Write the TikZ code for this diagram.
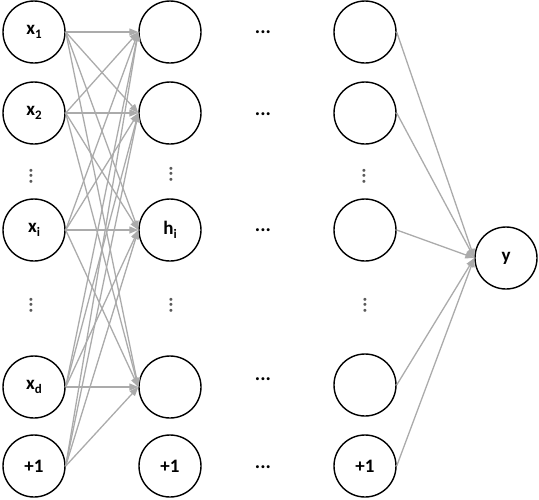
\documentclass[tikz,border=0pt]{standalone}
\usepackage{fontspec}
\setmainfont{Carlito}
\usetikzlibrary{arrows.meta}
\tikzset{
  neuron/.style={circle,draw=black,line width=1.4pt,minimum size=62pt,inner sep=0pt,font=\fontsize{19}{19}\selectfont\bfseries},
  conn/.style={draw=black!33,line width=1.3pt,-{Triangle[length=9pt,width=7pt]}},
  hdots/.style={font=\fontsize{20}{20}\selectfont\bfseries,inner sep=0pt},
  vdotsnode/.style={font=\fontsize{20}{20}\selectfont\bfseries,text=black!65,rotate=90,inner sep=0pt}
}
\newcommand{\sub}[1]{\raisebox{-4pt}{\fontsize{13}{13}\selectfont #1}}
\begin{document}
\begin{tikzpicture}[x=1pt,y=-1pt]
\useasboundingbox (0,0) rectangle (539,499);
% input layer
\node[neuron] (a1) at (34,32) {x\sub{1}};
\node[neuron] (a2) at (34,113) {x\sub{2}};
\node[neuron] (ai) at (34,230) {x\sub{i}};
\node[neuron] (ad) at (34,387) {x\sub{d}};
\node[neuron] (ab) at (34,466) {+1};
\node[vdotsnode] (av1) at (31,176) {...};
\node[vdotsnode] (av2) at (31,305) {...};
% hidden layer 1
\node[neuron] (b1) at (170,32) {};
\node[neuron] (b2) at (170,113) {};
\node[neuron] (bi) at (170,230) {h\sub{i}};
\node[neuron] (bd) at (170,387) {};
\node[neuron] (bb) at (170,466) {+1};
\node[vdotsnode] (bv1) at (171,174) {...};
\node[vdotsnode] (bv2) at (171,305) {...};
% middle dots
\node[hdots] (m1) at (263,32) {...};
\node[hdots] (m2) at (263,114) {...};
\node[hdots] (mi) at (263,230) {...};
\node[hdots] (md) at (263,379) {...};
\node[hdots] (mb) at (263,467) {...};
% last hidden layer
\node[neuron] (c1) at (365,32) {};
\node[neuron] (c2) at (365,113) {};
\node[neuron] (ci) at (365,230) {};
\node[neuron] (cd) at (365,385) {};
\node[neuron] (cb) at (365,466) {+1};
\node[vdotsnode] (cv1) at (364,176) {...};
\node[vdotsnode] (cv2) at (365,305) {...};
% output
\node[neuron] (y) at (506,258) {y};
% connections
\foreach \s in {a1,a2,ai,ad,ab}
  \foreach \t in {b1,b2,bi,bd}
    \draw[conn] (\s.east) -- (\t.west);
\foreach \s in {c1,c2,ci,cd,cb}
  \draw[conn] (\s.east) -- (y.west);
\end{tikzpicture}
\end{document}
